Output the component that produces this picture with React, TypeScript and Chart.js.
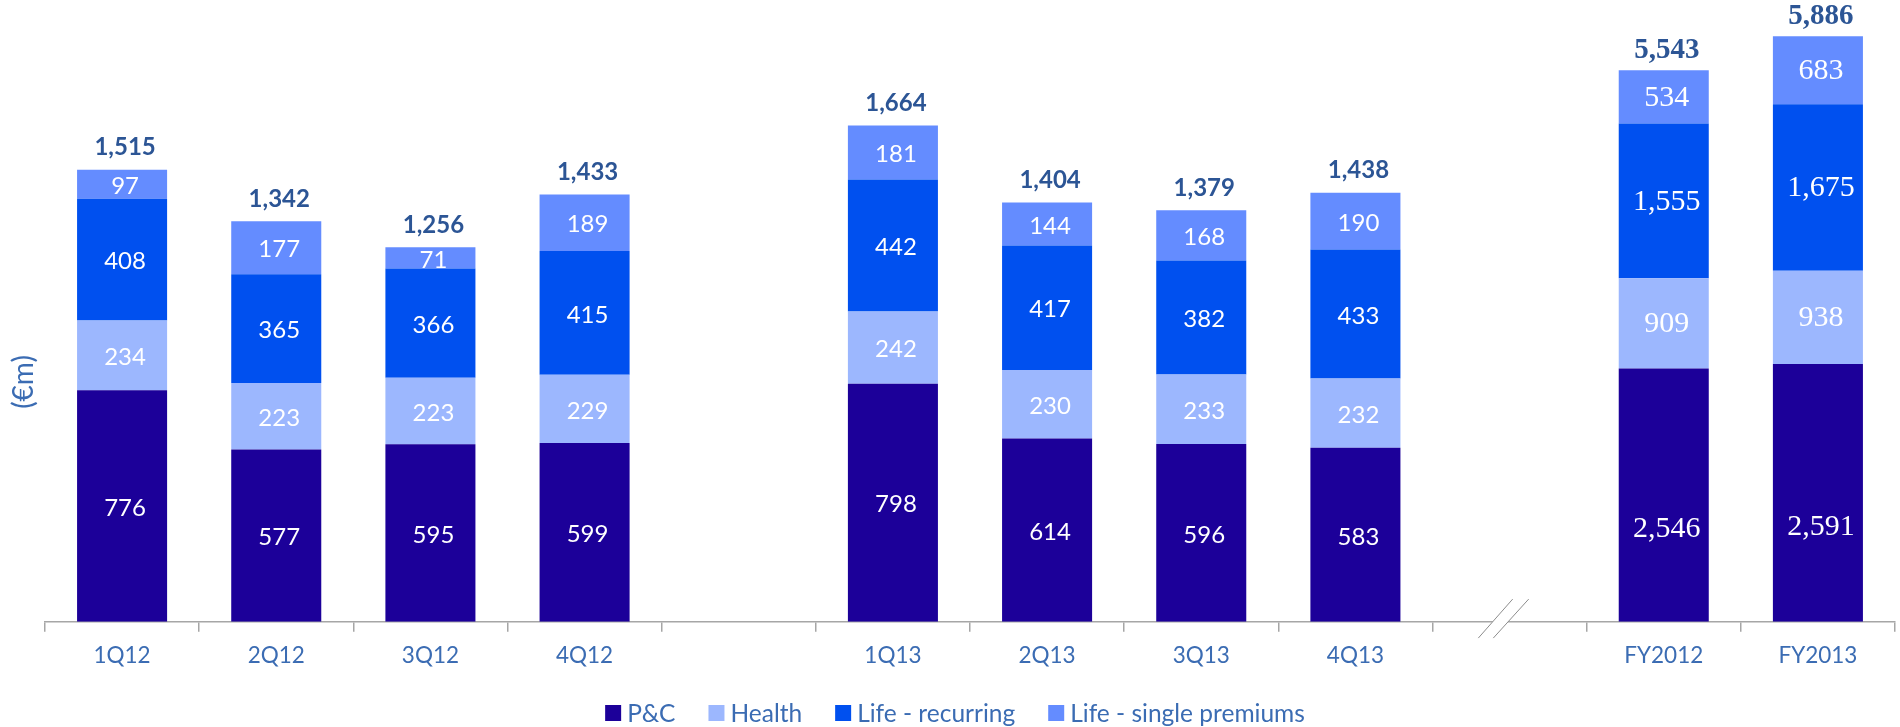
import React, { useEffect, useRef } from 'react';
import { Chart, registerables } from 'chart.js';

Chart.register(...registerables);

const categories = ['1Q12', '2Q12', '3Q12', '4Q12', '', '1Q13', '2Q13', '3Q13', '4Q13', '', 'FY2012', 'FY2013'];
const isFullYear = [false, false, false, false, false, false, false, false, false, false, true, true];
const seriesNames = ['P&C', 'Health', 'Life - recurring', 'Life - single premiums'];
const seriesColors = ['#1C0099', '#9CB7FE', '#0050EF', '#648CFF'];
const pc = [776, 577, 595, 599, null, 798, 614, 596, 583, null, 2546, 2591];
const health = [234, 223, 223, 229, null, 242, 230, 233, 232, null, 909, 938];
const lifeRecurring = [408, 365, 366, 415, null, 442, 417, 382, 433, null, 1555, 1675];
const lifeSingle = [97, 177, 71, 189, null, 181, 144, 168, 190, null, 534, 683];
const totals = [1515, 1342, 1256, 1433, null, 1664, 1404, 1379, 1438, null, 5543, 5886];
const seriesValues = [pc, health, lifeRecurring, lifeSingle];

const axisTextColor = '#3B6CB3';
const totalColor = '#2C5595';
const axisLineColor = '#A6A6A6';

const fmt = (v: number) => v.toLocaleString('en-US');

export default function App() {
  const canvasRef = useRef<HTMLCanvasElement | null>(null);

  useEffect(() => {
    const canvas = canvasRef.current;
    if (!canvas) return;

    const datasets: any[] = [];
    seriesValues.forEach((vals, s) => {
      datasets.push({
        label: seriesNames[s],
        data: vals.map((v, i) => (isFullYear[i] ? null : v)),
        backgroundColor: seriesColors[s],
        yAxisID: 'y',
        stack: 'main',
        barPercentage: 0.584,
        categoryPercentage: 1,
        seriesIndex: s,
      });
    });
    seriesValues.forEach((vals, s) => {
      datasets.push({
        label: seriesNames[s],
        data: vals.map((v, i) => (isFullYear[i] ? v : null)),
        backgroundColor: seriesColors[s],
        yAxisID: 'y2',
        stack: 'main',
        barPercentage: 0.584,
        categoryPercentage: 1,
        seriesIndex: s,
      });
    });

    const labelsPlugin = {
      id: 'labelsPlugin',
      afterDatasetsDraw(chart: any) {
        const ctx = chart.ctx;
        ctx.save();
        ctx.textAlign = 'center';
        ctx.textBaseline = 'middle';
        chart.data.datasets.forEach((ds: any, di: number) => {
          const meta = chart.getDatasetMeta(di);
          const fy = ds.yAxisID === 'y2';
          ctx.font = fy ? '30px "Liberation Serif"' : '24px Lato';
          ctx.fillStyle = '#FFFFFF';
          // full-year P&C labels sit lower in their segment
          const dy = fy ? (ds.seriesIndex === 0 ? 34 : 1) : 2;
          meta.data.forEach((el: any, i: number) => {
            const v = ds.data[i];
            if (v == null) return;
            const p = el.getProps(['x', 'y', 'base'], true);
            ctx.fillText(fmt(v), p.x + 3, (p.y + p.base) / 2 + dy);
          });
        });
        categories.forEach((_c, i) => {
          const t = totals[i];
          if (t == null) return;
          let top = Infinity;
          let x = 0;
          chart.data.datasets.forEach((ds: any, di: number) => {
            if (ds.data[i] == null) return;
            const el = chart.getDatasetMeta(di).data[i];
            if (el.y < top) top = el.y;
            x = el.x;
          });
          const fy = isFullYear[i];
          ctx.font = fy ? 'bold 29px "Liberation Serif"' : 'bold 24px Lato';
          ctx.fillStyle = totalColor;
          ctx.fillText(fmt(t), x + 3, top - (fy ? 20 : 22.5));
        });
        ctx.restore();
      },
      afterDraw(chart: any) {
        const ctx = chart.ctx;
        const xs = chart.scales.x;
        const base = chart.chartArea.bottom;
        ctx.save();
        // axis break mark in the gap before the full-year bars
        const cx = xs.getPixelForValue(9) - 6.3;
        ctx.fillStyle = '#FFFFFF';
        ctx.beginPath();
        ctx.moveTo(cx - 25, base + 16.3);
        ctx.lineTo(cx + 9.4, base - 22.7);
        ctx.lineTo(cx + 25.4, base - 22.7);
        ctx.lineTo(cx - 10, base + 16.3);
        ctx.closePath();
        ctx.fill();
        ctx.strokeStyle = '#8C8C8C';
        ctx.lineWidth = 1;
        ctx.beginPath();
        ctx.moveTo(cx - 25, base + 16.3);
        ctx.lineTo(cx + 9.4, base - 22.7);
        ctx.moveTo(cx - 10, base + 16.3);
        ctx.lineTo(cx + 25.4, base - 22.7);
        ctx.stroke();

        // y unit label
        ctx.translate(24, 382);
        ctx.rotate(-Math.PI / 2);
        ctx.font = '28px Lato';
        ctx.fillStyle = axisTextColor;
        ctx.textAlign = 'center';
        ctx.textBaseline = 'middle';
        ctx.fillText('(€m)', 0, 0);
        ctx.setTransform(1, 0, 0, 1, 0, 0);

        // legend
        ctx.font = '24.5px Lato';
        const box = 16;
        const gapBox = 6;
        const gapItem = 33;
        const widths = seriesNames.map((n) => ctx.measureText(n).width);
        const total = widths.reduce((a, w) => a + box + gapBox + w, 0) + gapItem * (seriesNames.length - 1);
        let lx = chart.width / 2 + 5 - total / 2;
        const ly = 713;
        ctx.textAlign = 'left';
        ctx.textBaseline = 'middle';
        seriesNames.forEach((n, s) => {
          ctx.fillStyle = seriesColors[s];
          ctx.fillRect(lx, ly - box / 2, box, box);
          ctx.fillStyle = axisTextColor;
          ctx.fillText(n, lx + box + gapBox, ly + 1);
          lx += box + gapBox + widths[s] + gapItem;
        });
        ctx.restore();
      },
    };

    const chart = new Chart(canvas, {
      type: 'bar',
      data: { labels: categories, datasets },
      options: {
        animation: false,
        responsive: true,
        maintainAspectRatio: false,
        layout: { padding: { left: 45, right: 5, top: 25, bottom: 48 } },
        plugins: {
          legend: { display: false },
          tooltip: { enabled: false },
        },
        scales: {
          x: {
            stacked: true,
            offset: true,
            grid: {
              offset: true,
              display: true,
              drawOnChartArea: false,
              drawTicks: true,
              tickLength: 10,
              color: axisLineColor,
              lineWidth: 1.5,
            },
            border: { display: true, color: axisLineColor, width: 1.5 },
            ticks: {
              color: axisTextColor,
              font: { family: 'Lato', size: 22.5 },
              padding: 10.1,
              autoSkip: false,
              maxRotation: 0,
            },
          },
          y: { display: false, stacked: true, min: 0, max: 2000 },
          y2: { display: false, stacked: true, min: 0, max: 6000 },
        },
      },
      plugins: [labelsPlugin],
    });

    return () => chart.destroy();
  }, []);

  return (
    <div style={{ position: 'absolute', left: 0, top: 0, width: 1900, height: 727, background: '#FFFFFF' }}>
      <canvas ref={canvasRef} />
    </div>
  );
}
